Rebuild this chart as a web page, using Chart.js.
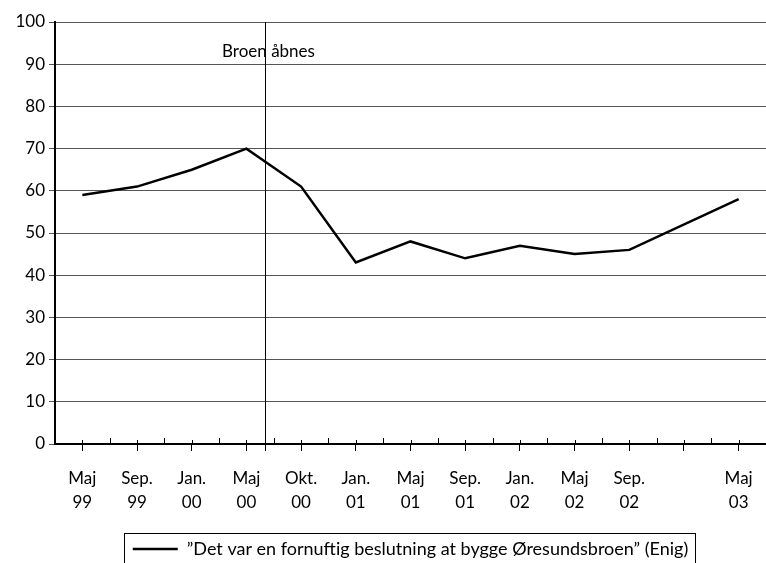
<!DOCTYPE html>
<html>
<head>
<meta charset="utf-8">
<script src="https://cdn.jsdelivr.net/npm/chart.js@4"></script>
<style>
    html, body { margin: 0; padding: 0; background: #fff; overflow: hidden; }
    #wrap { width: 766px; height: 568px; }
</style>
</head>
<body>
<div id="wrap"><canvas id="opinion"></canvas></div>
<script>
var months = [
    ['Maj', '99'], ['Sep.', '99'], ['Jan.', '00'], ['Maj', '00'], ['Okt.', '00'],
    ['Jan.', '01'], ['Maj', '01'], ['Sep.', '01'], ['Jan.', '02'], ['Maj', '02'],
    ['Sep.', '02'], '', ['Maj', '03']
];
var enig = [59, 61, 65, 70, 61, 43, 48, 44, 47, 45, 46, null, 58];
var seriesLabel = '”Det var en fornuftig beslutning at bygge Øresundsbroen” (Enig)';
var bridgeLabel = 'Broen åbnes';
var bridgeIndex = 3.34; // juli 2000, mellem Maj 00 og Okt. 00

var FONT = 'Lato';
var FSIZE = 17;

// ekstra streger: små tick-mærker, brolinjen og ramme om forklaringen
var extras = {
    id: 'extras',
    afterDraw: function (chart) {
        var ctx = chart.ctx;
        var xs = chart.scales.x;
        var area = chart.chartArea;
        ctx.save();
        ctx.strokeStyle = '#000';
        ctx.lineWidth = 1;
        ctx.beginPath();
        for (var i = 0; i < months.length; i++) {
            var px = Math.round(xs.getPixelForValue(i)) + 0.5;
            ctx.moveTo(px, area.bottom - 4);
            ctx.lineTo(px, area.bottom);
            if (i < months.length - 1) {
                var mx = Math.round((xs.getPixelForValue(i) + xs.getPixelForValue(i + 1)) / 2) + 0.5;
                ctx.moveTo(mx, area.bottom - 6);
                ctx.lineTo(mx, area.bottom);
            }
        }
        ctx.stroke();

        var a = xs.getPixelForValue(Math.floor(bridgeIndex));
        var b = xs.getPixelForValue(Math.floor(bridgeIndex) + 1);
        var bx = Math.round(a + (bridgeIndex - Math.floor(bridgeIndex)) * (b - a)) + 0.5;
        ctx.beginPath();
        ctx.moveTo(bx, area.top);
        ctx.lineTo(bx, area.bottom + 7);
        ctx.stroke();
        ctx.fillStyle = '#000';
        ctx.font = FSIZE + 'px ' + FONT;
        ctx.textAlign = 'center';
        ctx.textBaseline = 'middle';
        ctx.fillText(bridgeLabel, bx + 3, chart.scales.y.getPixelForValue(93));

        var hb = chart.legend.legendHitBoxes[0];
        if (hb) {
            ctx.strokeRect(Math.round(hb.left) - 8.5, Math.round(hb.top) - 6.5, Math.round(hb.width) + 16, 40);
        }
        ctx.restore();
    }
};

new Chart(document.getElementById('opinion'), {
    type: 'line',
    data: {
        labels: months,
        datasets: [{
            label: seriesLabel,
            data: enig,
            borderColor: '#000',
            backgroundColor: '#000',
            borderWidth: 2.5,
            pointRadius: 0,
            tension: 0,
            spanGaps: true
        }]
    },
    options: {
        responsive: true,
        maintainAspectRatio: false,
        animation: false,
        layout: { padding: { top: 22, right: 0, left: 0, bottom: 0 } },
        scales: {
            x: {
                offset: true,
                afterFit: function (s) {
                    s.height = 82;
                    s.paddingLeft = 0;
                    s.paddingRight = 0;
                },
                grid: { display: true, drawOnChartArea: false, offset: false, tickLength: 7, color: '#000' },
                border: { display: true, color: '#000', width: 2 },
                ticks: {
                    color: '#000',
                    padding: 16,
                    maxRotation: 0,
                    autoSkip: false,
                    font: { family: FONT, size: FSIZE, lineHeight: 1.4 }
                }
            },
            y: {
                min: 0,
                max: 100,
                afterFit: function (s) { s.width = 55; },
                grid: { color: '#555', lineWidth: 1, tickLength: 6 },
                border: { display: true, color: '#000', width: 2 },
                ticks: {
                    stepSize: 10,
                    color: '#000',
                    padding: 4,
                    font: { family: FONT, size: FSIZE }
                }
            }
        },
        plugins: {
            legend: {
                position: 'bottom',
                fullSize: false,
                labels: {
                    usePointStyle: true,
                    pointStyle: 'line',
                    pointStyleWidth: 45,
                    color: '#000',
                    padding: 14,
                    font: { family: FONT, size: 18 }
                }
            },
            tooltip: { enabled: false }
        }
    },
    plugins: [extras]
});
</script>
</body>
</html>
